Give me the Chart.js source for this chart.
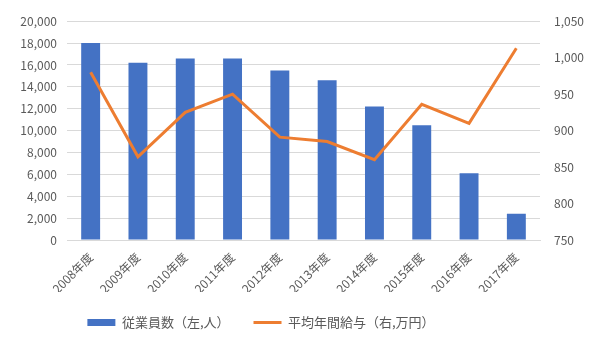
<!DOCTYPE html>
<html><head><meta charset="utf-8">
<script src="https://cdn.jsdelivr.net/npm/chart.js@4/dist/chart.umd.min.js"></script>
<style>html,body{margin:0;padding:0;background:#fff}#wrap{width:600px;height:360px}</style>
</head><body><div id="wrap"><canvas id="c" width="600" height="360"></canvas></div>
<script>
const categories = ['2008年度','2009年度','2010年度','2011年度','2012年度','2013年度','2014年度','2015年度','2016年度','2017年度'];
const employees = [18000,16200,16600,16600,15500,14600,12200,10500,6100,2400];
const salary = [980,864,925,950,891,885,860,936,910,1013];
const leftTicks = [0,2000,4000,6000,8000,10000,12000,14000,16000,18000,20000];
const rightTicks = [750,800,850,900,950,1000,1050];
const seriesNames = ['従業員数（左,人）','平均年間給与（右,万円）'];

const FONT = "'Noto Sans CJK JP','Noto Sans',sans-serif";
const GREY = '#595959';
const fmt = v => v.toLocaleString('en-US');

const legendShift = {
  id:'legendShift',
  afterLayout(chart){ const l = chart.legend; if (l) { l.right -= 78; } }
};

new Chart(document.getElementById('c'), {
  data: {
    labels: categories,
    datasets: [
      { type:'bar', label: seriesNames[0], data: employees, backgroundColor:'#4472C4', borderWidth:0,
        yAxisID:'y', order:1, barPercentage:0.4, categoryPercentage:1, pointStyle:'rect' },
      { type:'line', label: seriesNames[1], data: salary, borderColor:'#ED7D31', backgroundColor:'#ED7D31',
        borderWidth:3, pointRadius:0, tension:0, yAxisID:'y1', order:0, pointStyle:'line' }
    ]
  },
  options: {
    responsive:false, animation:false, devicePixelRatio:1,
    layout:{ padding:{ top:0, bottom:21, left:0, right:0 } },
    plugins:{
      legend:{ position:'bottom', labels:{ usePointStyle:true, pointStyleWidth:28, boxHeight:7,
        color:GREY, font:{ family:FONT, size:13 }, padding:24,
        sort:(a,b)=>a.datasetIndex-b.datasetIndex } },
      tooltip:{ enabled:false }
    },
    scales:{
      x:{ grid:{ display:false }, border:{ color:'#d9d9d9' },
        ticks:{ color:GREY, font:{ family:FONT, size:12 }, minRotation:45, maxRotation:45, padding:2 },
        afterFit(s){ s.height = 52; } },
      y:{ position:'left', min:0, max:20000, afterBuildTicks(s){ s.ticks = leftTicks.map(v=>({value:v})); },
        grid:{ color:'#d9d9d9', drawTicks:false }, border:{ display:false },
        ticks:{ color:GREY, font:{ family:FONT, size:12 }, padding:10, callback:v=>fmt(v) },
        afterFit(s){ s.width = 67; } },
      y1:{ position:'right', min:750, max:1050, afterBuildTicks(s){ s.ticks = rightTicks.map(v=>({value:v})); },
        grid:{ display:false, drawTicks:false }, border:{ display:false },
        ticks:{ color:GREY, font:{ family:FONT, size:12 }, padding:14, callback:v=>fmt(v) },
        afterFit(s){ s.width = 60; } }
    }
  },
  plugins:[legendShift]
});
</script></body></html>
